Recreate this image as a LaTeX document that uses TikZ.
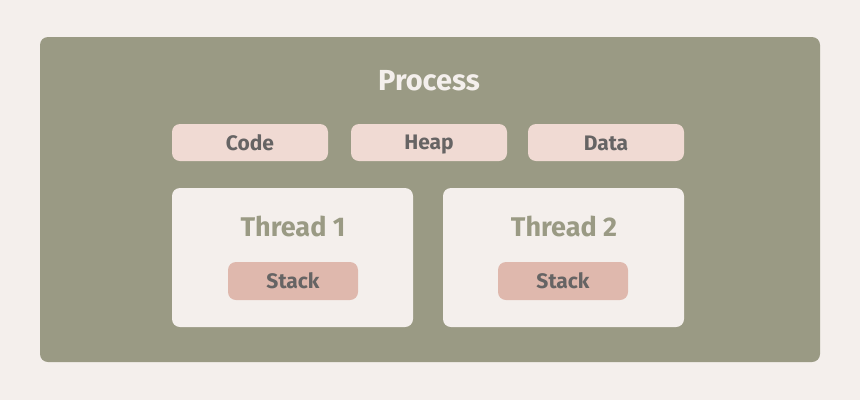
\documentclass[tikz,border=0pt]{standalone}
\usepackage{fontspec}
\setmainfont{Fira Sans}
\definecolor{bg}{HTML}{F4EFEC}
\definecolor{proc}{HTML}{9A9A84}
\definecolor{seg}{HTML}{F0DAD3}
\definecolor{stk}{HTML}{DFB8AD}
\definecolor{txt}{HTML}{666464}
\begin{document}
\begin{tikzpicture}[x=1pt,y=-1pt,
  box/.style={rounded corners=8pt},
  lbl/.style={font=\bfseries\fontsize{21}{25}\selectfont, text=txt, inner sep=0pt},
  ttl/.style={font=\bfseries\fontsize{27}{32}\selectfont, text=proc, inner sep=0pt}]
\fill[bg] (0,0) rectangle (860,400);
\useasboundingbox (0,0) rectangle (860,400);
\fill[proc,box] (40,37) rectangle (820,362);
\node[font=\bfseries\fontsize{29}{34}\selectfont, text=bg, inner sep=0pt] (ptitle) at (429,81) {Process};
\fill[seg,box] (172,124) rectangle (328,161);
\node[lbl] (code) at (250,143) {Code};
\fill[seg,box] (351,124) rectangle (507,161);
\node[lbl] (heap) at (429,145) {Heap};
\fill[seg,box] (528,124) rectangle (684,161);
\node[lbl] (data) at (606,143) {Data};
\fill[bg,box] (172,188) rectangle (413,327);
\node[ttl] (t1) at (293,226) {Thread 1};
\fill[stk,box] (228,262) rectangle (358,300);
\node[lbl] (s1) at (293,281) {Stack};
\fill[bg,box] (443,188) rectangle (684,327);
\node[ttl] (t2) at (564,226) {Thread 2};
\fill[stk,box] (498,262) rectangle (628,300);
\node[lbl] (s2) at (563,281) {Stack};
\end{tikzpicture}
\end{document}
